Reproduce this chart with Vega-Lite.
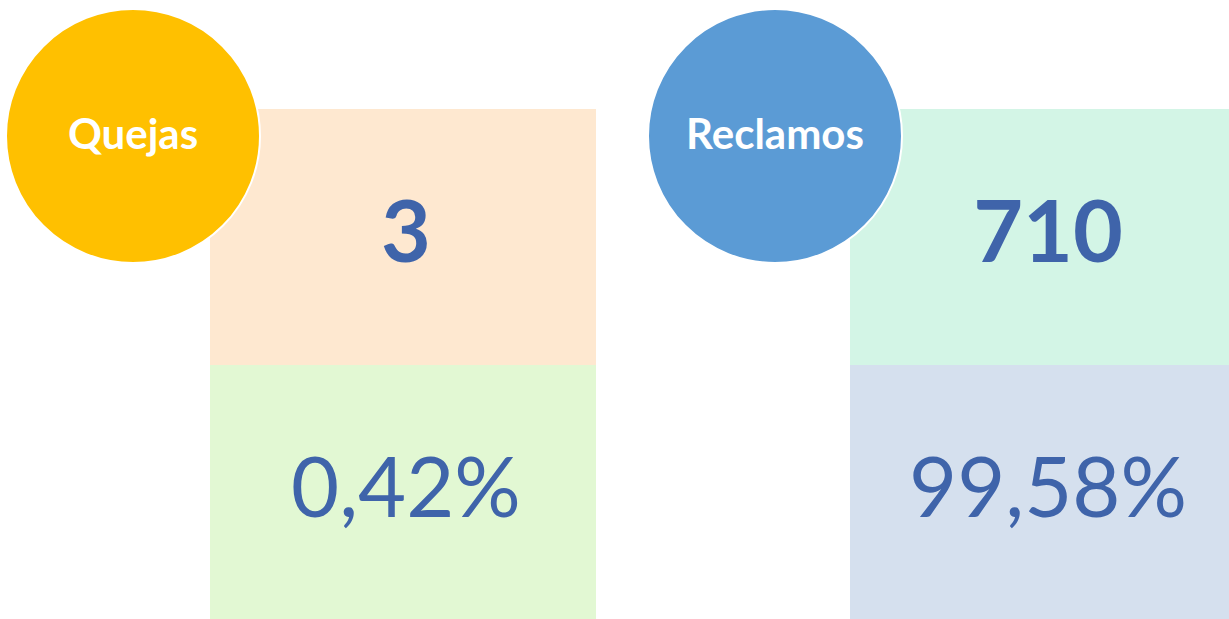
{
  "$schema": "https://vega.github.io/schema/vega-lite/v6.json",
  "width": 1229,
  "height": 619,
  "padding": 0,
  "autosize": {"type": "none"},
  "background": "white",
  "config": {"view": {"stroke": null}},
  "datasets": {
    "boxes": [
      {"x": 210, "x2": 596, "y": 109, "y2": 365, "color": "#FEE8D0"},
      {"x": 210, "x2": 596, "y": 365, "y2": 619, "color": "#E2F8D3"},
      {"x": 850, "x2": 1229, "y": 109, "y2": 365, "color": "#D3F5E6"},
      {"x": 850, "x2": 1229, "y": 365, "y2": 619, "color": "#D5E0EE"}
    ],
    "circles": [
      {"x": 133, "y": 136, "label": "Quejas", "color": "#FFC000"},
      {"x": 775, "y": 136, "label": "Reclamos", "color": "#5B9BD5"}
    ],
    "values": [
      {"x": 406, "y": 236, "text": "3", "kind": "count"},
      {"x": 1048, "y": 236, "text": "710", "kind": "count"},
      {"x": 406, "y": 492, "text": "0,42%", "kind": "pct"},
      {"x": 1048, "y": 492, "text": "99,58%", "kind": "pct"}
    ]
  },
  "layer": [
    {
      "data": {"name": "boxes"},
      "mark": {"type": "rect"},
      "encoding": {
        "x": {"field": "x", "type": "quantitative", "scale": {"domain": [0, 1229]}, "axis": null},
        "x2": {"field": "x2"},
        "y": {"field": "y", "type": "quantitative", "scale": {"domain": [0, 619], "reverse": true}, "axis": null},
        "y2": {"field": "y2"},
        "color": {"field": "color", "type": "nominal", "scale": null, "legend": null}
      }
    },
    {
      "data": {"name": "circles"},
      "mark": {"type": "point", "shape": "circle", "filled": true, "size": 64516, "stroke": "white", "strokeWidth": 2, "opacity": 1},
      "encoding": {
        "x": {"field": "x", "type": "quantitative", "scale": {"domain": [0, 1229]}, "axis": null},
        "y": {"field": "y", "type": "quantitative", "scale": {"domain": [0, 619], "reverse": true}, "axis": null},
        "fill": {"field": "color", "type": "nominal", "scale": null, "legend": null}
      }
    },
    {
      "data": {"name": "circles"},
      "mark": {"type": "text", "font": "Lato", "fontWeight": "bold", "fontSize": 42, "color": "white", "align": "center", "baseline": "middle"},
      "encoding": {
        "x": {"field": "x", "type": "quantitative", "scale": {"domain": [0, 1229]}, "axis": null},
        "y": {"field": "y", "type": "quantitative", "scale": {"domain": [0, 619], "reverse": true}, "axis": null},
        "text": {"field": "label"}
      }
    },
    {
      "data": {"name": "values"},
      "transform": [{"filter": "datum.kind === 'count'"}],
      "mark": {"type": "text", "font": "Lato", "fontWeight": "bold", "fontSize": 86, "color": "#3F64AA", "align": "center", "baseline": "middle"},
      "encoding": {
        "x": {"field": "x", "type": "quantitative", "scale": {"domain": [0, 1229]}, "axis": null},
        "y": {"field": "y", "type": "quantitative", "scale": {"domain": [0, 619], "reverse": true}, "axis": null},
        "text": {"field": "text"}
      }
    },
    {
      "data": {"name": "values"},
      "transform": [{"filter": "datum.kind === 'pct'"}],
      "mark": {"type": "text", "font": "Lato", "fontWeight": "normal", "fontSize": 83, "color": "#3F64AA", "align": "center", "baseline": "middle"},
      "encoding": {
        "x": {"field": "x", "type": "quantitative", "scale": {"domain": [0, 1229]}, "axis": null},
        "y": {"field": "y", "type": "quantitative", "scale": {"domain": [0, 619], "reverse": true}, "axis": null},
        "text": {"field": "text"}
      }
    }
  ]
}
